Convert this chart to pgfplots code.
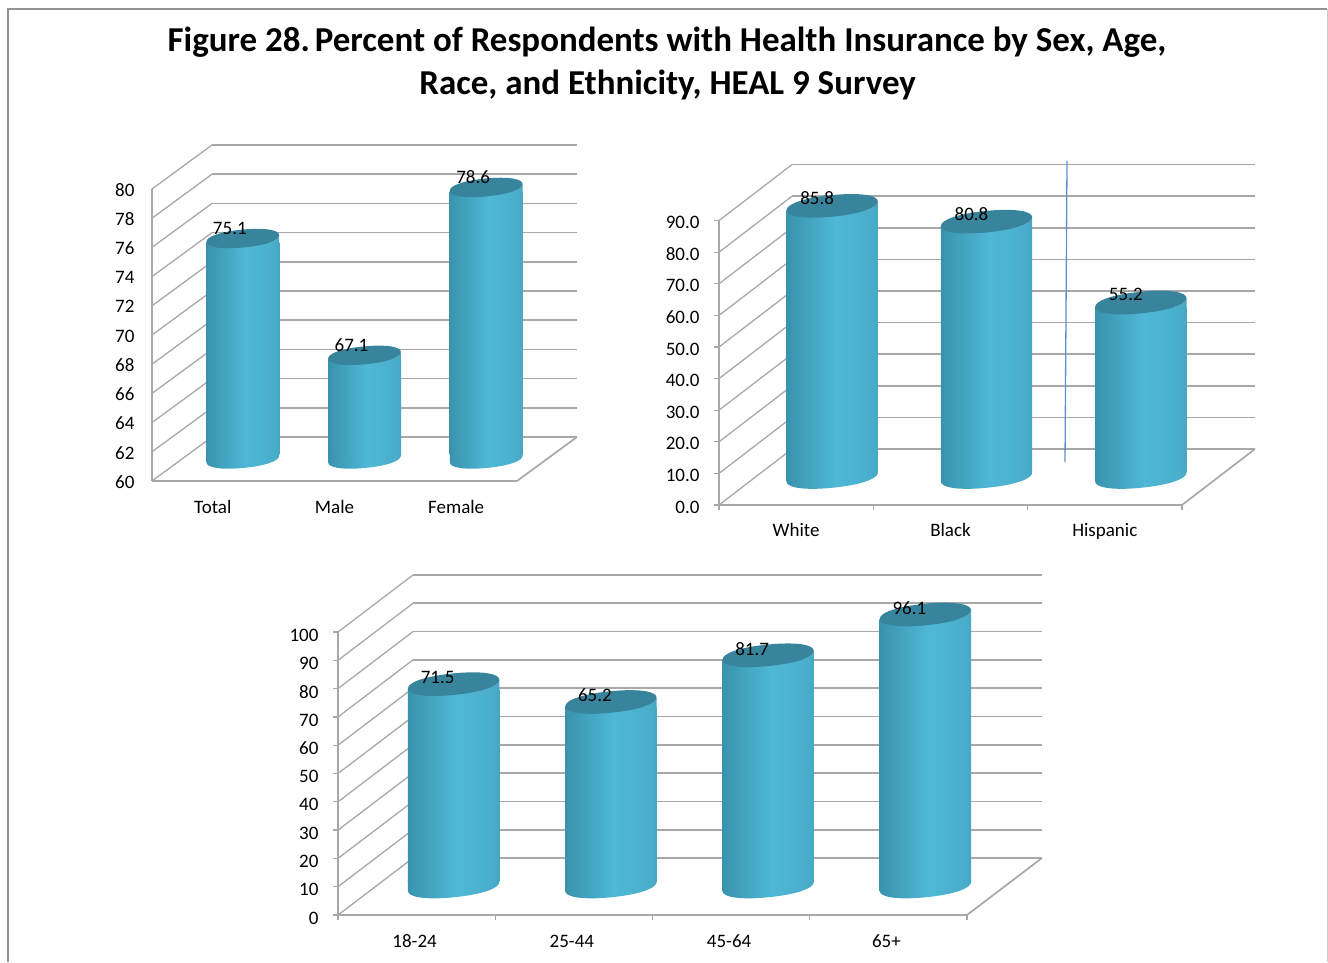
\documentclass[border=0pt]{standalone}
\usepackage{pgfplots}
\pgfplotsset{compat=1.18}
\usepackage{fontspec}
\setmainfont{Carlito}
\definecolor{wallgray}{HTML}{A8A8A8}
\definecolor{captop}{HTML}{38849C}
\definecolor{bluerule}{HTML}{5F8FCF}
\definecolor{c0}{HTML}{27606F}
\definecolor{c1}{HTML}{2F7A91}
\definecolor{c2}{HTML}{3C97B2}
\definecolor{c3}{HTML}{4FB8D6}
\definecolor{c4}{HTML}{49ADCA}
\definecolor{c5}{HTML}{3A879F}
\definecolor{c6}{HTML}{2F6D80}
\definecolor{c7}{HTML}{2A5F70}
\pgfdeclarehorizontalshading{cyl}{100bp}{
  color(0bp)=(c0); color(10bp)=(c1); color(28bp)=(c2); color(52bp)=(c3);
  color(72bp)=(c4); color(89bp)=(c5); color(96bp)=(c6); color(100bp)=(c7)}
\def\kk{0.60}
% centre (#1,#2), half width #3, tilt #4, half height #5
% lower half of the ring, from the right end to the left end
\newcommand\cyllower[5]{%
  \pgfpathcurveto{\pgfpoint{#1pt+#3pt}{#2pt+#4pt-\kk*#5pt}}{\pgfpoint{#1pt+\kk*#3pt}{#2pt-#5pt+\kk*#4pt}}{\pgfpoint{#1pt}{#2pt-#5pt}}%
  \pgfpathcurveto{\pgfpoint{#1pt-\kk*#3pt}{#2pt-#5pt-\kk*#4pt}}{\pgfpoint{#1pt-#3pt}{#2pt-#4pt-\kk*#5pt}}{\pgfpoint{#1pt-#3pt}{#2pt-#4pt}}}
% upper half of the ring, from the left end to the right end
\newcommand\cylupper[5]{%
  \pgfpathcurveto{\pgfpoint{#1pt-#3pt}{#2pt-#4pt+\kk*#5pt}}{\pgfpoint{#1pt-\kk*#3pt}{#2pt+#5pt-\kk*#4pt}}{\pgfpoint{#1pt}{#2pt+#5pt}}%
  \pgfpathcurveto{\pgfpoint{#1pt+\kk*#3pt}{#2pt+#5pt+\kk*#4pt}}{\pgfpoint{#1pt+#3pt}{#2pt+#4pt+\kk*#5pt}}{\pgfpoint{#1pt+#3pt}{#2pt+#4pt}}}
\newcommand\declcyl[6]{%
  \pgfdeclareplotmark{#1top}{%
    \pgfpathmoveto{\pgfpoint{#2pt-#4pt}{#3pt-#5pt}}%
    \pgfpathlineto{\pgfpoint{#2pt-#4pt}{#3pt-#5pt-2pt}}%
    \pgfpathlineto{\pgfpoint{#2pt+#4pt}{#3pt-#5pt-2pt}}%
    \pgfpathlineto{\pgfpoint{#2pt+#4pt}{#3pt+#5pt}}%
    \cyllower{#2}{#3}{#4}{#5}{#6}\pgfpathclose
    \pgfshadepath{cyl}{0}\pgfusepath{discard}%
    \pgfsetfillcolor{captop}%
    \pgfpathmoveto{\pgfpoint{#2pt+#4pt}{#3pt+#5pt}}%
    \cyllower{#2}{#3}{#4}{#5}{#6}%
    \cylupper{#2}{#3}{#4}{#5}{#6}\pgfpathclose
    \pgfusepath{fill}}%
  \pgfdeclareplotmark{#1base}{%
    \pgfpathmoveto{\pgfpoint{#2pt+#4pt}{#3pt+#5pt}}%
    \cyllower{#2}{#3}{#4}{#5}{#6}%
    \pgfpathlineto{\pgfpoint{#2pt-#4pt}{#3pt+#5pt+2pt}}%
    \pgfpathlineto{\pgfpoint{#2pt+#4pt}{#3pt+#5pt+2pt}}\pgfpathclose
    \pgfshadepath{cyl}{0}\pgfusepath{discard}}%
}
\declcyl{a}{30}{22}{36.4}{3.3}{9}
\declcyl{b}{36}{28}{45.7}{4.4}{10.8}
\declcyl{c}{37}{28.5}{45.7}{4.4}{10.8}
\pgfplotsset{
  chart/.style={
    anchor=south west, scale only axis, clip=false,
    axis lines=left,
    axis line style={-, draw=wallgray, line width=1.7pt},
    ymajorgrids, xmajorgrids=false,
    tick style={draw=wallgray, line width=1.3pt},
    xtick align=outside, ytick align=outside,
    x tick label as interval,
    xmin=-0.5,
    ticklabel style={font=\fontsize{19}{21}\selectfont, text=black},
    xticklabel style={text height=0.68em, text depth=0.22em},
    /pgf/number format/assume math mode=true,
    nodes near coords style={font=\fontsize{19}{21}\selectfont, text=black, anchor=center, inner sep=0pt},
  },
  cylbar/.style n args={3}{ybar, bar width=#1, bar shift=#2, draw=none, shading=cyl, y filter/.expression={y-#3}},
}
\begin{document}
\begin{tikzpicture}[x=1pt,y=1pt]
\path[use as bounding box] (0,0) rectangle (1328,962);
\draw[color=gray!85, line width=1.5pt] (8,0) -- (8,953) -- (1327,953);
\draw[color=gray!40, line width=0.8pt] (1327.5,953) -- (1327.5,0);
\node[font=\fontsize{34.95}{38}\bfseries\selectfont, text=black, anchor=center] at (667,919.5) {Figure 28.\kern-3pt\ Percent of Respondents with Health Insurance by Sex, Age,};
\node[font=\fontsize{34.95}{38}\bfseries\selectfont, text=black, anchor=center] at (667.5,877.5) {Race, and Ethnicity, HEAL 9 Survey};

% ---------- sex
\begin{axis}[chart, at={(152pt,481pt)}, width=365pt, height=292pt,
  xmax=2.5, ymin=60, ymax=80, ytick={60,62,...,80},
  xtick={-0.5,0.5,1.5,2.5}, xticklabels={Total,Male,Female},
  major tick length=0pt,
  major grid style={draw=wallgray, line width=1.7pt, xshift=60pt, yshift=44pt},
  yticklabel style={xshift=-14pt, yshift=-1pt},
  xticklabel style={yshift=-22pt},
  nodes near coords style={xshift=17pt, yshift=32pt},
  ]
  \pgfplotsinvokeforeach{60,62,...,80}{\draw[wallgray, line width=1.3pt] (axis cs:-0.5,#1) -- ++(60pt,44pt);}
  \draw[wallgray, line width=1.7pt] (axis cs:2.5,60) -- ++(60pt,44pt);
  \addplot[only marks, mark=abase] coordinates {(0,60)(1,60)(2,60)};
  \addplot[cylbar={73pt}{30pt}{0.59}, yshift=26.3pt] coordinates {(0,75.1)};
  \addplot[cylbar={73pt}{30pt}{0.59}, yshift=26.3pt] coordinates {(1,67.1)};
  \addplot[cylbar={73pt}{30pt}{0.59}, yshift=26.3pt] coordinates {(2,78.6)};
  \addplot[only marks, mark=atop, nodes near coords, point meta=y, /pgf/number format/.cd, fixed, fixed zerofill, precision=1] coordinates {(0,75.1)(1,67.1)(2,78.6)};
\end{axis}

% ---------- race
\begin{axis}[chart, at={(719pt,457pt)}, width=463pt, height=284.4pt,
  xmax=2.5, ymin=0, ymax=90, ytick={0,10,...,90},
  yticklabel={\pgfmathprintnumber[fixed, fixed zerofill, precision=1]{\tick}},
  xtick={-0.5,0.5,1.5,2.5}, xticklabels={White,Black,Hispanic},
  major tick length=5pt,
  major grid style={draw=wallgray, line width=1.7pt, xshift=73pt, yshift=56pt},
  yticklabel style={xshift=-11pt, yshift=-2pt},
  xticklabel style={yshift=-16pt},
  nodes near coords style={xshift=21pt, yshift=36pt},
  ]
  \pgfplotsinvokeforeach{0,10,...,90}{\draw[wallgray, line width=1.3pt] (axis cs:-0.5,#1) -- ++(73pt,56pt);}
  \draw[wallgray, line width=1.7pt] (axis cs:2.5,0) -- ++(73pt,56pt);
  \draw[color=bluerule, line width=1.3pt] (axis cs:1.755,108.9) -- (axis cs:1.742,13.6);
  \addplot[only marks, mark=bbase] coordinates {(0,0)(1,0)(2,0)};
  \addplot[cylbar={91.4pt}{36pt}{3.42}, yshift=33.4pt] coordinates {(0,85.8)};
  \addplot[cylbar={91.4pt}{36pt}{3.42}, yshift=33.4pt] coordinates {(1,80.8)};
  \addplot[cylbar={91.4pt}{36pt}{3.42}, yshift=33.4pt] coordinates {(2,55.2)};
  \addplot[only marks, mark=btop, nodes near coords, point meta=y, /pgf/number format/.cd, fixed, fixed zerofill, precision=1] coordinates {(0,85.8)(1,80.8)(2,55.2)};
\end{axis}

% ---------- age
\begin{axis}[chart, at={(338pt,47pt)}, width=629pt, height=283pt,
  xmax=3.5, ymin=0, ymax=100, ytick={0,10,...,100},
  xtick={-0.5,0.5,1.5,2.5,3.5}, xticklabels={18-24,25-44,45-64,65+},
  major tick length=5pt,
  major grid style={draw=wallgray, line width=1.7pt, xshift=75pt, yshift=57pt},
  yticklabel style={xshift=-11pt, yshift=-3pt},
  xticklabel style={yshift=-17pt, xshift=-2pt},
  nodes near coords style={xshift=21pt, yshift=35pt},
  ]
  \pgfplotsinvokeforeach{0,10,...,100}{\draw[wallgray, line width=1.3pt] (axis cs:-0.5,#1) -- ++(75pt,57pt);}
  \draw[wallgray, line width=1.7pt] (axis cs:3.5,0) -- ++(75pt,57pt);
  \addplot[only marks, mark=cbase] coordinates {(0,0)(1,0)(2,0)(3,0)};
  \addplot[cylbar={91.4pt}{37pt}{3.82}, yshift=33.9pt] coordinates {(0,71.5)};
  \addplot[cylbar={91.4pt}{37pt}{3.82}, yshift=33.9pt] coordinates {(1,65.2)};
  \addplot[cylbar={91.4pt}{37pt}{3.82}, yshift=33.9pt] coordinates {(2,81.7)};
  \addplot[cylbar={91.4pt}{37pt}{3.82}, yshift=33.9pt] coordinates {(3,96.1)};
  \addplot[only marks, mark=ctop, nodes near coords, point meta=y, /pgf/number format/.cd, fixed, fixed zerofill, precision=1] coordinates {(0,71.5)(1,65.2)(2,81.7)(3,96.1)};
\end{axis}
\end{tikzpicture}
\end{document}
